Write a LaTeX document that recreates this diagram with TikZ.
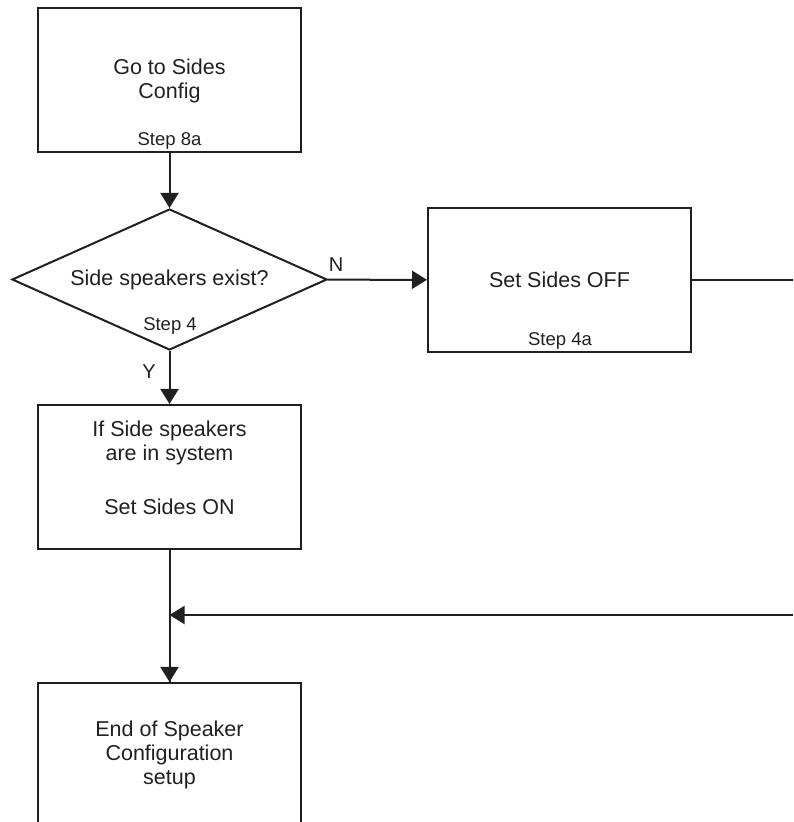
\documentclass[tikz,border=0pt]{standalone}
\usepackage{fontspec}
\setmainfont{Liberation Sans}
\usetikzlibrary{shapes.geometric,arrows.meta}
\definecolor{ink}{HTML}{231F20}

\begin{document}
\begin{tikzpicture}
    [x=1pt,y=1pt,
    line width=2pt,color=ink,
    box/.style={draw,rectangle,minimum width=263pt,minimum height=144pt,
        inner sep=0pt,align=center,font=\fontsize{21.5}{24}\selectfont},
    ask/.style={draw,diamond,minimum width=315pt,minimum height=141pt,
        aspect=2.23,inner sep=0pt,font=\fontsize{21.5}{24}\selectfont},
    steplabel/.style={font=\fontsize{18.5}{20}\selectfont,inner sep=0pt},
    flow/.style={-{Triangle[width=18pt,length=15pt]}}]
    \useasboundingbox (0,0) rectangle (793,822);
    %boxes
    \node[box] (sides) at (169.5,741.5) {Go to Sides\\Config};
    \node[ask] (exist) at (169.5,542.5) {Side speakers exist?};
    \node[box] (off) at (559.5,542) {Set Sides OFF};
    \node[box,text depth=19pt] (on) at (169.5,345)
        {If Side speakers\\are in system\\[30pt]Set Sides ON};
    \node[box] (done) at (169.5,67)
        {End of Speaker\\Configuration\\setup};
    %step labels
    \node[steplabel] (s8a) at (169.5,681.3) {Step 8a};
    \node[steplabel] (s4) at (170,496) {Step 4};
    \node[steplabel] (s4a) at (560,481) {Step 4a};
    \node[steplabel,font=\fontsize{20}{22}\selectfont] (lbn) at (336,557) {N};
    \node[steplabel,font=\fontsize{20}{22}\selectfont] (lby) at (149,450) {Y};
    %free ends
    \coordinate (offend) at (793,542);
    \coordinate (backend) at (793,207);
    \coordinate (join) at (169.5,207);
    %connectors
    \draw[flow] (sides) -- (exist);
    \draw[flow] (exist) -- (off);
    \draw[flow] (exist) -- (on);
    \draw (off) -- (offend);
    \draw (on) -- (done.north);
    \draw[flow] (backend) -- (join);
    \draw[flow] (join) -- (done);
\end{tikzpicture}
\end{document}
